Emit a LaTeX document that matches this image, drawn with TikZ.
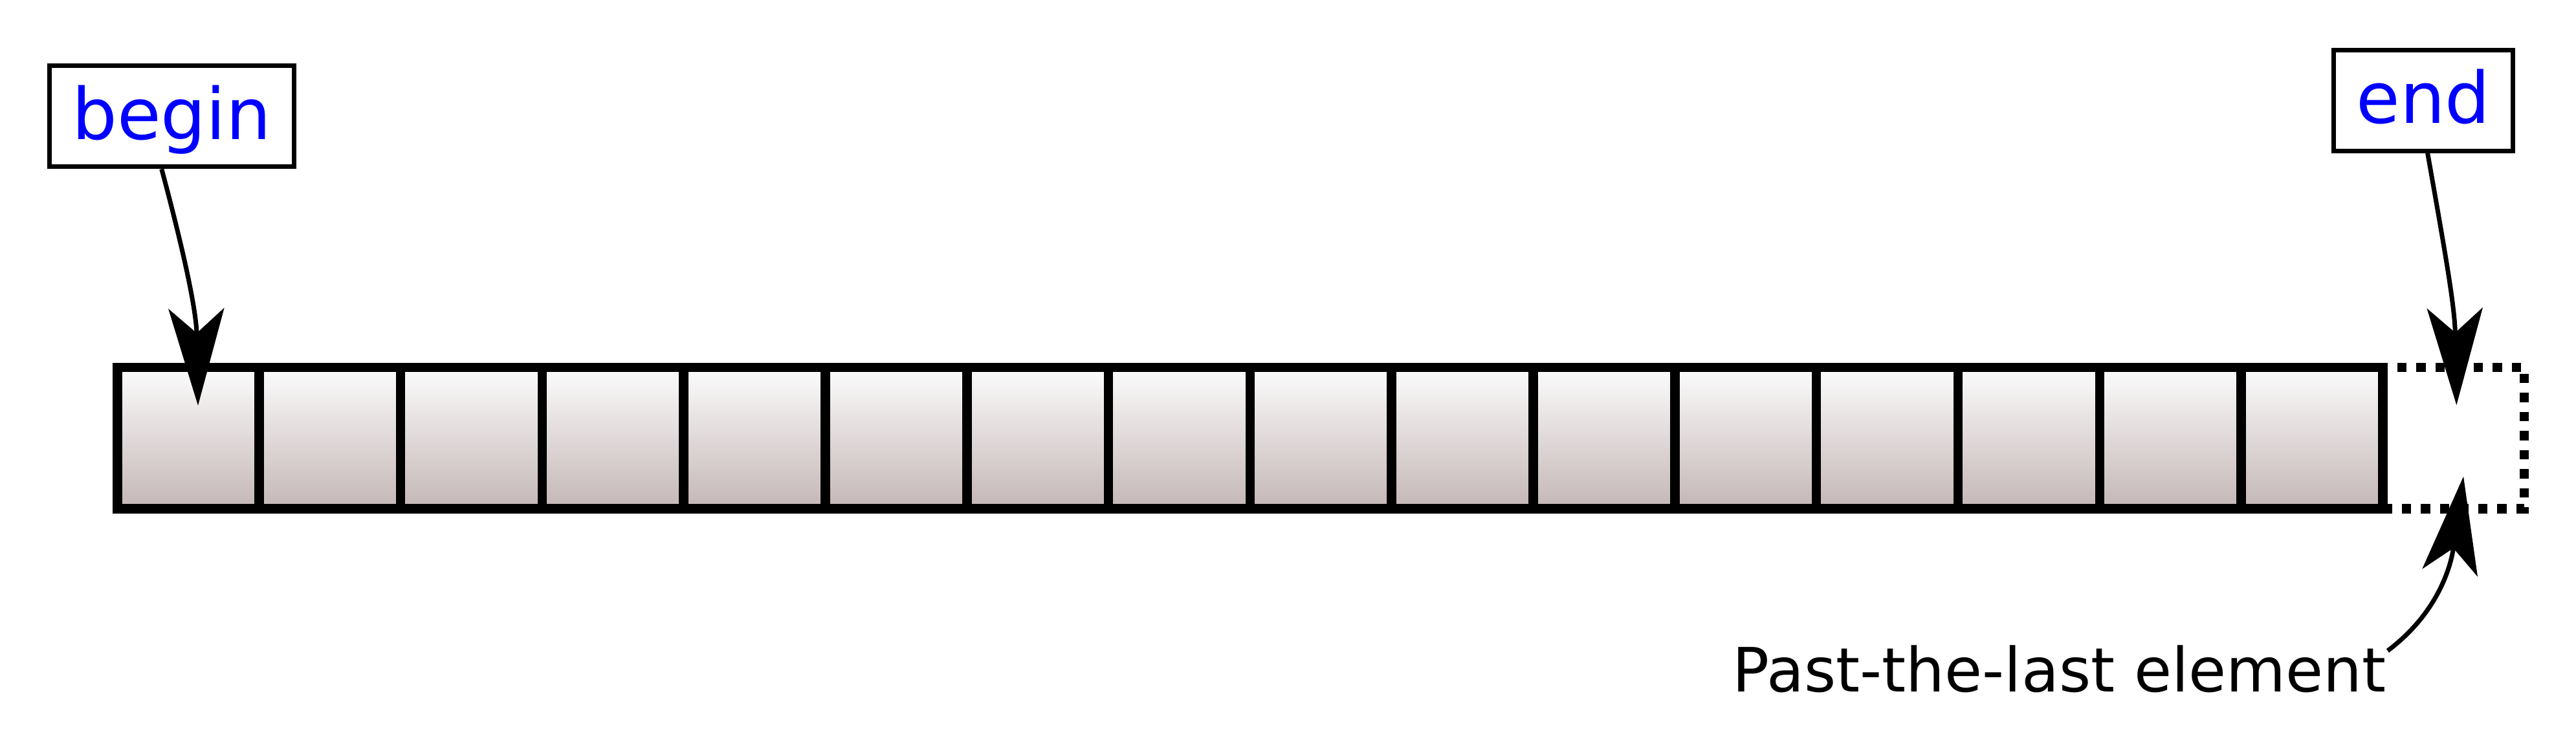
\documentclass[tikz,border=0pt]{standalone}
\usepackage{fontspec}
\setmainfont{DejaVu Sans}
\usetikzlibrary{arrows.meta}

\definecolor{celltop}{RGB}{252,252,252}
\definecolor{cellbottom}{RGB}{196,182,182}

\begin{document}
\begin{tikzpicture}[x=21.88pt,y=21.88pt,
  cell/.style={shape=rectangle,draw=black,line width=1.45pt,minimum size=21.88pt,inner sep=0pt,top color=celltop,bottom color=cellbottom},
  pastcell/.style={shape=rectangle,draw=black,line width=1.45pt,minimum size=21.88pt,inner sep=0pt,dash pattern=on 1.45pt off 1.5pt},
  iter/.style={shape=rectangle,draw=black,line width=0.7pt,fill=white,text=blue,font=\fontsize{11}{13}\selectfont,inner xsep=3.5pt,inner ysep=2.95pt,text height=8.4pt,text depth=1.3pt},
  pointer/.style={line width=0.7pt,-{Stealth[length=15pt,width=8.6pt,inset=3.8pt]}}]
\useasboundingbox (-0.8295,-1.633) rectangle (17.365,3.5955);
% the array and the slot past its end
\node[pastcell] (P) at (16.5,0.5) {};
\foreach \i in {0,...,15}
  \node[cell] (C\i) at (\i+0.5,0.5) {};
% iterators
\node[iter] (B) at (0.3828,2.7738) {begin};
\node[iter] (E) at (16.287,2.886) {end};
\node[anchor=base east,inner sep=0pt,font=\fontsize{9.45}{11}\selectfont] (L) at (16.035,-1.294) {Past-the-last element};
\coordinate (Btip) at (0.569,0.730);
\coordinate (Etip) at (16.521,0.733);
\coordinate (Ltip) at (16.570,0.229);
\draw[pointer] ([xshift=-1.55pt]B.south) to[out=-75,in=91] (Btip);
\draw[pointer] ([xshift=0.65pt]E.south) to[out=-80,in=91] (Etip);
\draw[pointer] ([yshift=-1pt]L.north east) to[out=37,in=-98] (Ltip);
\end{tikzpicture}
\end{document}
